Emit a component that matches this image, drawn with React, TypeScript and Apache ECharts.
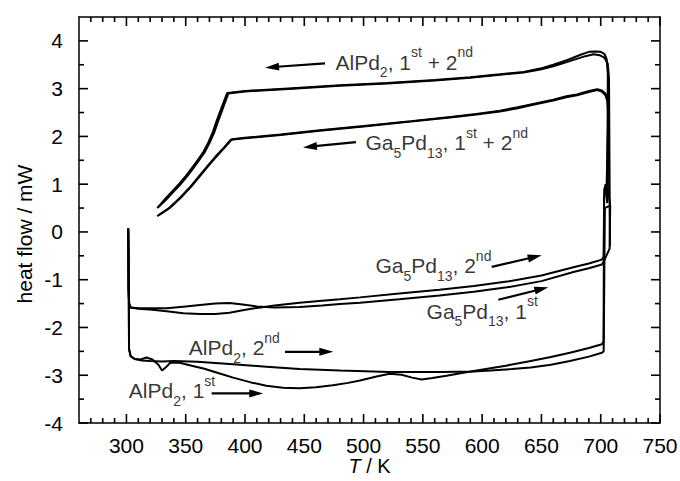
import React, { useEffect, useRef } from 'react';
import * as echarts from 'echarts';

const FONT = "'Liberation Sans', Arial, Helvetica, sans-serif";

// Axis ticks
const xMajorTicks = [300, 350, 400, 450, 500, 550, 600, 650, 700, 750];
const xMinorTicks = [270, 280, 290, 310, 320, 330, 340, 360, 370, 380, 390, 410, 420, 430, 440, 460, 470, 480, 490, 510, 520, 530, 540, 560, 570, 580, 590, 610, 620, 630, 640, 660, 670, 680, 690, 710, 720, 730, 740];
const yMajorTicks = [-4, -3, -2, -1, 0, 1, 2, 3, 4];
const yMinorTicks = [-3.5, -2.5, -1.5, -0.5, 0.5, 1.5, 2.5, 3.5];

// AlPd2, run 1: 1st heating, turn-around at ~705 K, cooling
const alPd2Run1: number[][] = [
  [301.5, 0.07], [301.8, -0.5], [302.2, -2.45], [303.5, -2.6], [307, -2.66], [312, -2.67], [317, -2.63], [322, -2.67],
  [327, -2.78], [330, -2.9], [333, -2.84], [337, -2.74], [345, -2.74], [355, -2.8], [365, -2.86], [378, -2.96],
  [390, -3.05], [405, -3.15], [418, -3.22], [432, -3.26], [446, -3.27], [460, -3.25], [474, -3.21], [487, -3.16],
  [497, -3.11], [510, -3.03], [522, -2.97], [532, -2.99], [541, -3.05], [549, -3.09], [558, -3.06], [570, -3.01],
  [584, -2.95], [598, -2.89], [620, -2.8], [641, -2.7], [658, -2.62], [674, -2.53], [690, -2.43], [701, -2.35],
  [702.4, -2.3], [702.8, 0.7], [704, 1.0], [705.5, 0.6], [706, 3.3],
  [705, 3.62], [703, 3.73], [700, 3.77], [696, 3.78], [690, 3.77], [683, 3.71], [672, 3.6], [660, 3.5],
  [649, 3.42], [635, 3.35], [615, 3.3], [590, 3.24], [560, 3.18], [520, 3.12], [480, 3.07], [440, 3.01],
  [400, 2.95], [385, 2.91], [382, 2.72], [379, 2.52], [376, 2.32], [373, 2.1], [369, 1.87], [365, 1.68],
  [360, 1.5], [355, 1.33], [350, 1.17], [345, 1.02], [339, 0.86], [333, 0.7], [326, 0.5],
];

// AlPd2, run 2: 2nd heating, turn-around, cooling
const alPd2Run2: number[][] = [
  [301.5, 0.07], [301.8, -0.5], [302.2, -2.45], [303.5, -2.6], [307, -2.66], [313, -2.69], [320, -2.7], [330, -2.71],
  [340, -2.7], [360, -2.72], [390, -2.77], [418, -2.82], [446, -2.87], [480, -2.9], [522, -2.93], [565, -2.93],
  [593, -2.92], [607, -2.9], [625, -2.87], [641, -2.84], [658, -2.78], [674, -2.7], [690, -2.61], [701, -2.53],
  [702.5, -2.5], [703.5, 0.5], [707.5, 0.55], [707.8, -0.3], [707, 3.2],
  [706, 3.52], [703, 3.65], [699, 3.7], [694, 3.72], [687, 3.68], [672, 3.56], [660, 3.47], [649, 3.4],
  [635, 3.34], [615, 3.29], [590, 3.23], [560, 3.17], [520, 3.11], [480, 3.06], [440, 3.0], [400, 2.94],
  [386, 2.9], [383, 2.7], [380, 2.5], [377, 2.3], [374, 2.08], [370, 1.86], [366, 1.67], [361, 1.49],
  [356, 1.32], [351, 1.16], [346, 1.01], [340, 0.85], [334, 0.69], [327, 0.52],
];

// Ga5Pd13, run 1: 1st heating, turn-around, cooling
const ga5Pd13Run1: number[][] = [
  [301.5, 0.07], [301.8, -1.2], [302.3, -1.5], [303.5, -1.58], [310, -1.6], [334, -1.6], [350, -1.56], [362, -1.53],
  [375, -1.5], [387, -1.49], [398, -1.52], [410, -1.56], [425, -1.58], [446, -1.57], [465, -1.54], [480, -1.51],
  [497, -1.48], [530, -1.41], [564, -1.33], [593, -1.25], [621, -1.16], [650, -1.03], [677, -0.84], [690, -0.76],
  [701, -0.68],
  [702.5, -0.62], [707.5, -0.35], [708, 0.55], [706, 0.9], [706.5, 2.4],
  [705.5, 2.75], [704, 2.86], [701, 2.94], [697, 2.97], [690, 2.93], [680, 2.86], [671, 2.82], [660, 2.75],
  [643, 2.66], [630, 2.59], [615, 2.52], [595, 2.46], [575, 2.4], [540, 2.31], [500, 2.21], [463, 2.12],
  [430, 2.03], [400, 1.96], [388, 1.93], [382, 1.76], [376, 1.6], [369, 1.4], [362, 1.19], [354, 0.95],
  [345, 0.71], [336, 0.5], [326, 0.33],
];

// Ga5Pd13, run 2: 2nd heating, turn-around, cooling
const ga5Pd13Run2: number[][] = [
  [301.5, 0.07], [301.8, -1.2], [302.3, -1.5], [303.5, -1.58], [310, -1.61], [322, -1.63], [334, -1.66], [348, -1.7],
  [362, -1.72], [375, -1.72], [387, -1.69], [398, -1.64], [410, -1.59], [425, -1.54], [446, -1.48], [465, -1.44],
  [480, -1.41], [497, -1.37], [530, -1.29], [564, -1.21], [593, -1.13], [621, -1.04], [650, -0.91], [677, -0.74],
  [690, -0.66], [701, -0.58],
  [702.5, -0.52], [703, 0.9], [705, 1.0], [706.5, 2.6],
  [705.8, 2.8], [704, 2.9], [701, 2.96], [697, 2.99], [690, 2.95], [680, 2.88], [671, 2.84], [660, 2.77],
  [643, 2.68], [630, 2.61], [615, 2.54], [595, 2.47], [575, 2.41], [540, 2.32], [500, 2.22], [463, 2.13],
  [430, 2.04], [400, 1.97], [389, 1.94], [383, 1.77], [377, 1.61], [370, 1.41], [363, 1.2], [355, 0.96],
  [346, 0.72], [337, 0.51], [327, 0.35],
];

// Annotation texts (rich text) anchored in data coordinates
const annotationTexts = [
  '{m|AlPd}{s|2}{m|, 1}{p|st}{m| + 2}{p|nd}',
  '{m|Ga}{s|5}{m|Pd}{s|13}{m|, 1}{p|st}{m| + 2}{p|nd}',
  '{m|Ga}{s|5}{m|Pd}{s|13}{m|, 2}{p|nd}',
  '{m|Ga}{s|5}{m|Pd}{s|13}{m|, 1}{p|st}',
  '{m|AlPd}{s|2}{m|, 2}{p|nd}',
  '{m|AlPd}{s|2}{m|, 1}{p|st}',
];
const annotationAnchors = [
  [475.9, 3.55],
  [501.2, 1.87],
  [509.6, -0.71],
  [552.7, -1.66],
  [352.2, -2.42],
  [301.6, -3.33],
];
// Arrows: [x1, y1, x2 (tip), y2 (tip)]
const arrows = [
  [467.5, 3.53, 416.9, 3.44],
  [493.6, 1.88, 448.9, 1.77],
  [608.1, -0.73, 650.2, -0.49],
  [613.6, -1.42, 655.8, -1.16],
  [433.7, -2.51, 474.5, -2.51],
  [371.9, -3.38, 415.4, -3.38],
];

const MAJOR_LEN = 9;
const MINOR_LEN = 5;
const X_MIN = 260;
const X_MAX = 750;
const Y_MIN = -4;
const Y_MAX = 4.5;

export default function App() {
  const ref = useRef<HTMLDivElement>(null);

  useEffect(() => {
    const chart = echarts.init(ref.current as HTMLDivElement, null, { renderer: 'svg' });

    const frameLine = { show: true, onZero: false, lineStyle: { color: '#000', width: 1.5 } };
    const noTick = { show: false };
    const noLabel = { show: false };
    const noSplit = { show: false };

    const xBase = { type: 'value', min: X_MIN, max: X_MAX, splitLine: noSplit };
    const yBase = { type: 'value', min: Y_MIN, max: Y_MAX, splitLine: noSplit };

    const curve = (name: string, data: number[][]) => ({
      name,
      type: 'line',
      data,
      showSymbol: false,
      symbol: 'none',
      lineStyle: { color: '#000', width: 2 },
      itemStyle: { color: '#000' },
      silent: true,
      z: 3,
    });

    const richStyles = {
      m: { fontSize: 21, fontFamily: FONT, color: '#000', lineHeight: 34 },
      s: { fontSize: 14, fontFamily: FONT, color: '#000', lineHeight: 14, verticalAlign: 'bottom' },
      p: { fontSize: 14, fontFamily: FONT, color: '#000', lineHeight: 14, verticalAlign: 'top' },
    };

    const option: any = {
      animation: false,
      backgroundColor: '#fff',
      grid: { left: 79, right: 20, top: 17, bottom: 58, containLabel: false, outerBoundsMode: 'none' },
      xAxis: [
        {
          ...xBase,
          position: 'bottom',
          axisLine: frameLine,
          axisTick: noTick,
          axisLabel: { show: true, customValues: xMajorTicks, margin: 12, fontSize: 21, color: '#000', fontFamily: FONT },
          name: '{i|T} / K',
          nameLocation: 'middle',
          nameGap: 33,
          nameMoveOverlap: false,
          nameTextStyle: {
            fontSize: 20, color: '#000', fontFamily: FONT,
            rich: { i: { fontSize: 20, fontStyle: 'italic', color: '#000', fontFamily: FONT } },
          },
        },
        { ...xBase, position: 'top', axisLine: frameLine, axisTick: noTick, axisLabel: noLabel },
      ],
      yAxis: [
        {
          ...yBase,
          position: 'left',
          axisLine: frameLine,
          axisTick: noTick,
          axisLabel: { show: true, customValues: yMajorTicks, margin: 16, fontSize: 21, color: '#000', fontFamily: FONT },
          name: 'heat flow / mW',
          nameLocation: 'middle',
          nameGap: 44,
          nameMoveOverlap: false,
          nameTextStyle: { fontSize: 21, color: '#000', fontFamily: FONT, padding: [0, 28, 0, 0] },
        },
        { ...yBase, position: 'right', axisLine: frameLine, axisTick: noTick, axisLabel: noLabel },
      ],
      series: [
        curve('AlPd2 run 1', alPd2Run1),
        curve('AlPd2 run 2', alPd2Run2),
        curve('Ga5Pd13 run 1', ga5Pd13Run1),
        curve('Ga5Pd13 run 2', ga5Pd13Run2),
        {
          name: 'arrows',
          type: 'custom',
          silent: true,
          z: 4,
          encode: { x: [0, 2], y: [1, 3] },
          data: arrows,
          renderItem: (params: any, api: any) => {
            const p1 = api.coord([api.value(0), api.value(1)]);
            const p2 = api.coord([api.value(2), api.value(3)]);
            const dx = p2[0] - p1[0];
            const dy = p2[1] - p1[1];
            const len = Math.sqrt(dx * dx + dy * dy) || 1;
            const ux = dx / len;
            const uy = dy / len;
            const L = 14;
            const W = 4;
            const bx = p2[0] - ux * L;
            const by = p2[1] - uy * L;
            return {
              type: 'group',
              children: [
                { type: 'line', shape: { x1: p1[0], y1: p1[1], x2: bx + ux * 2, y2: by + uy * 2 }, style: { stroke: '#000', lineWidth: 2.2 } },
                {
                  type: 'polygon',
                  shape: { points: [[p2[0], p2[1]], [bx - uy * W, by + ux * W], [bx + uy * W, by - ux * W]] },
                  style: { fill: '#000' },
                },
              ],
            };
          },
        },
        {
          name: 'labels',
          type: 'scatter',
          silent: true,
          z: 5,
          symbolSize: 1,
          itemStyle: { color: 'rgba(0,0,0,0)' },
          data: annotationAnchors.map((a, i) => ({
            value: a,
            label: { formatter: annotationTexts[i] },
          })),
          label: {
            show: true,
            position: 'right',
            distance: 0,
            color: '#000',
            rich: richStyles,
          },
        },
      ],
    };

    chart.setOption(option);

    // Tick marks on all four sides, as thin filled rects placed through the chart's own scales
    const toPx = (x: number, y: number) => chart.convertToPixel({ gridIndex: 0 }, [x, y]) as number[];
    const tickEls: any[] = [];
    const T = 1.6;
    const rect = (x: number, y: number, width: number, height: number) => ({
      type: 'rect',
      silent: true,
      z: 100,
      shape: { x, y, width, height },
      style: { fill: '#000' },
    });
    const addX = (v: number, len: number) => {
      const b = toPx(v, Y_MIN);
      const t = toPx(v, Y_MAX);
      tickEls.push(rect(b[0] - T / 2, b[1] - len, T, len));
      tickEls.push(rect(t[0] - T / 2, t[1], T, len));
    };
    const addY = (v: number, len: number) => {
      const l = toPx(X_MIN, v);
      const r = toPx(X_MAX, v);
      tickEls.push(rect(l[0], l[1] - T / 2, len, T));
      tickEls.push(rect(r[0] - len, r[1] - T / 2, len, T));
    };
    xMajorTicks.forEach((v) => addX(v, MAJOR_LEN));
    xMinorTicks.forEach((v) => addX(v, MINOR_LEN));
    yMajorTicks.forEach((v) => addY(v, MAJOR_LEN));
    yMinorTicks.forEach((v) => addY(v, MINOR_LEN));
    chart.setOption({ graphic: { elements: tickEls } });

    return () => chart.dispose();
  }, []);

  return (
    <div
      ref={ref}
      style={{ position: 'fixed', left: 0, top: 0, width: 680, height: 481, background: '#fff' }}
    />
  );
}
